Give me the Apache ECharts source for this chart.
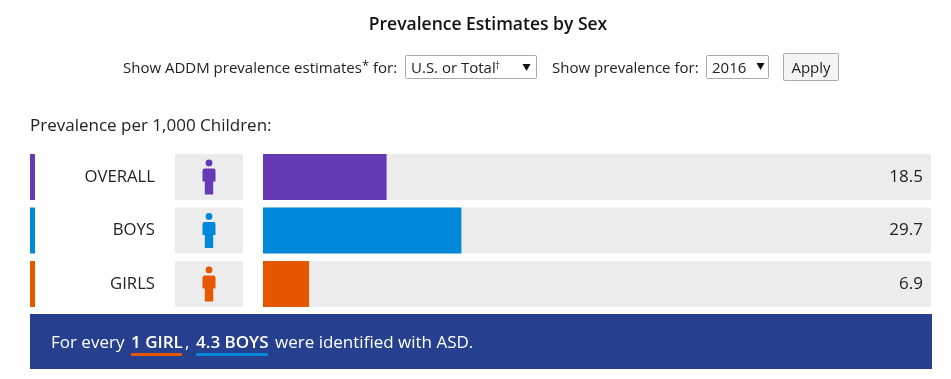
<!DOCTYPE html>
<html>
<head>
<meta charset="utf-8">
<title>Prevalence Estimates by Sex</title>
<script src="https://cdn.jsdelivr.net/npm/echarts@6/dist/echarts.min.js"></script>
<style>
html,body{margin:0;padding:0;background:#fff;}
#chart{width:951px;height:379px;}
</style>
</head>
<body>
<div id="chart"></div>
<script>
var categories=['OVERALL','BOYS','GIRLS'];
var prevalence=[18.5,29.7,6.9];
var colors=['#6639b7','#0089da','#e65800'];
var valueLabels=['18.5','29.7','6.9'];

var font='"Open Sans", sans-serif';
var textColor='#222';
var personIcon='path://M6.5,0a3.4,3.4 0 1 0 0.01,0z M2,9 L11,9 Q13,9 13,11 L13,22 L10.7,22 L10.7,35 L2.3,35 L2.3,22 L0,22 L0,11 Q0,9 2,9 Z';

//rows share one band height, each grid only differs in x
var rowTop=150.25, rowH=160.5;
function rowGrid(left,width){
    return {left:left,width:width,top:rowTop,height:rowH,containLabel:false};
}
function hiddenX(idx,max){
    return {type:'value',gridIndex:idx,min:0,max:max,show:false};
}
function catAxis(idx,data,extra){
    var axis={type:'category',gridIndex:idx,inverse:true,data:data,
        axisLine:{show:false},axisTick:{show:false},splitLine:{show:false},axisLabel:{show:false}};
    return Object.assign(axis,extra||{});
}
function label(x,y,text,opts){
    return {type:'text',x:x,y:y,z:10,style:Object.assign({
        text:text,font:'15px '+font,fill:textColor,textVerticalAlign:'middle'},opts||{})};
}
function box(x,y,w,h,fill,stroke){
    return {type:'rect',shape:{x:x,y:y,width:w,height:h,r:stroke?1:0},
        style:{fill:fill,stroke:stroke||null,lineWidth:1}};
}
function arrow(x,y){
    return {type:'polygon',z:10,shape:{points:[[x,y],[x+8,y],[x+4,y+7]]},style:{fill:'#111'}};
}

var option={
    animation:false,
    backgroundColor:'#fff',
    grid:[rowGrid(263,668),rowGrid(30,5),rowGrid(175,68)],
    xAxis:[hiddenX(0,100),hiddenX(1,1),hiddenX(2,1)],
    yAxis:[
        catAxis(0,categories,{
            axisLabel:{show:true,margin:108,padding:[3,0,0,0],fontFamily:font,fontSize:16.7,color:textColor}
        }),
        catAxis(0,valueLabels,{
            position:'right',
            z:10,
            axisLabel:{show:true,inside:true,margin:8,padding:[3,0,0,0],fontFamily:font,fontSize:17,color:textColor}
        }),
        catAxis(1,categories),
        catAxis(2,categories)
    ],
    series:[
        {
            type:'bar',
            xAxisIndex:0,yAxisIndex:0,
            barWidth:46,
            showBackground:true,
            backgroundStyle:{color:'#ececec'},
            data:prevalence.map(function(v,i){
                return {value:v,itemStyle:{color:colors[i]}};
            })
        },
        {
            type:'bar',
            xAxisIndex:1,yAxisIndex:2,
            barWidth:46,
            data:categories.map(function(c,i){
                return {value:1,itemStyle:{color:colors[i]}};
            })
        },
        {
            type:'bar',
            xAxisIndex:2,yAxisIndex:3,
            barWidth:46,
            itemStyle:{color:'#ececec'},
            data:categories.map(function(){return 1;})
        },
        {
            type:'scatter',
            xAxisIndex:2,yAxisIndex:3,
            symbol:personIcon,
            symbolSize:[13,35],
            symbolKeepAspect:false,
            z:5,
            data:categories.map(function(c,i){
                return {value:[0.5,c],itemStyle:{color:colors[i],opacity:1}};
            })
        }
    ],
    graphic:[
        label(488,25,'Prevalence Estimates by Sex',{font:'600 17.5px '+font,textAlign:'center',fill:'#111'}),
        label(123,69,'Show ADDM prevalence estimates'),
        label(362,66,'*',{font:'13px '+font}),
        label(373,69,'for:'),
        box(405.5,55.5,131,23,'#fff','#aaa'),
        label(411,69,'U.S. or Total'),
        label(495,66,'†',{font:'10px '+font}),
        arrow(522.5,64),
        label(552,69,'Show prevalence for:'),
        box(706.5,55.5,62,23,'#fff','#aaa'),
        label(712,69,'2016'),
        arrow(756.5,63),
        box(783.5,53.5,55,27,'#f4f4f4','#aaa'),
        label(811,69,'Apply',{textAlign:'center'}),
        label(30,126,'Prevalence per 1,000 Children:',{font:'17px '+font}),
        box(30,314,902,55,'#26408f'),
        label(51,343,'For every',{font:'17px '+font,fill:'#fff'}),
        label(131,343,'1 GIRL',{font:'600 17px '+font,fill:'#fff'}),
        box(131,353,51,3,colors[2]),
        label(185,343,',',{font:'17px '+font,fill:'#fff'}),
        label(196,343,'4.3 BOYS',{font:'600 17px '+font,fill:'#fff'}),
        box(196,353,72,3,colors[1]),
        label(275,343,'were identified with ASD.',{font:'17px '+font,fill:'#fff'})
    ]
};

var chart=echarts.init(document.getElementById('chart'));
chart.setOption(option);
</script>
</body>
</html>
